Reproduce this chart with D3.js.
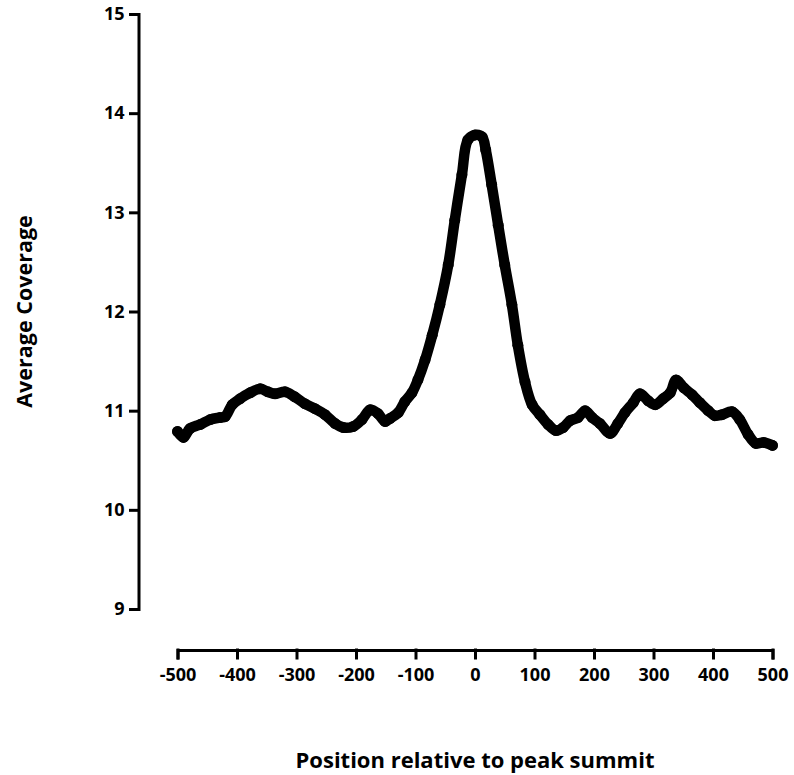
<!DOCTYPE html>
<html>
<head>
<meta charset="utf-8">
<script src="https://cdn.jsdelivr.net/npm/d3@7"></script>
<style>
  body { margin: 0; background: #fff; }
  svg { display: block; font-family: "Open Sans", sans-serif; font-weight: bold; }
</style>
</head>
<body>
<div id="chart"></div>
<script>
// Datos
const posiciones = [-500, -490, -479, -462, -445, -429, -420, -408, -395, -378, -361, -348, -336, -319,
  -303, -286, -269, -252, -235, -221, -205, -190, -176, -163, -151, -143, -129, -118, -106, -96,
  -84, -72, -59, -45, -34, -22, -12, 0, 12, 18, 28, 39, 50, 62, 72, 84, 96, 109, 123, 136, 148,
  160, 173, 185, 197, 210, 227, 240, 252, 266, 277, 291, 303, 316, 328, 338, 351, 365, 378, 392,
  403, 415, 432, 445, 459, 472, 485, 500];
const cobertura = [10.79, 10.73, 10.82, 10.86, 10.91, 10.93, 10.94, 11.06, 11.12, 11.18, 11.22, 11.19, 11.17, 11.19,
  11.14, 11.07, 11.02, 10.96, 10.87, 10.83, 10.84, 10.91, 11.01, 10.97, 10.89, 10.92, 10.98, 11.09, 11.18, 11.31,
  11.51, 11.76, 12.07, 12.47, 12.92, 13.38, 13.73, 13.78, 13.76, 13.63, 13.28, 12.87, 12.47, 12.07, 11.66, 11.29, 11.06, 10.96, 10.86, 10.80, 10.83,
  10.90, 10.93, 11.00, 10.93, 10.87, 10.77, 10.87, 10.98, 11.08, 11.17, 11.10, 11.06, 11.12, 11.18, 11.31, 11.23, 11.16, 11.08, 11.00,
  10.95, 10.96, 10.99, 10.91, 10.76, 10.67, 10.68, 10.65];
const ticksX = [-500, -400, -300, -200, -100, 0, 100, 200, 300, 400, 500];
const ticksY = [9, 10, 11, 12, 13, 14, 15];

const WIDTH = 794;
const HEIGHT = 775;

const MARGIN = {
    top: 14,
    bottom: 125,
    right: 21.5,
    left: 177.5,
}
const EJE_Y_X = 138.5;
const EJE_X_Y = 650;

const svg = d3.select("#chart")
    .append("svg")
    .attr("width", WIDTH)
    .attr("height", HEIGHT);

const escalaX = d3.scaleLinear()
    .domain([-500, 500])
    .range([MARGIN.left, WIDTH - MARGIN.right]);

const escalaY = d3.scaleLinear()
    .domain([9, 15])
    .range([609, MARGIN.top]);

const ejeX = d3.axisBottom(escalaX)
    .tickValues(ticksX)
    .tickFormat(d => String(d))
    .tickSizeOuter(0)
    .tickSize(8)
    .tickPadding(10);

const ejeY = d3.axisLeft(escalaY)
    .tickValues(ticksY)
    .tickFormat(d => String(d))
    .tickSizeOuter(0)
    .tickSize(8)
    .tickPadding(6);

const gX = svg.append("g")
    .attr("transform", `translate(0, ${EJE_X_Y})`)
    .call(ejeX);

const gY = svg.append("g")
    .attr("transform", `translate(${EJE_Y_X}, 0)`)
    .call(ejeY);

[gX, gY].forEach(g => {
    g.selectAll("path, line")
        .attr("stroke", "#000")
        .attr("stroke-width", 3)
        .attr("stroke-linecap", "square");
    g.selectAll("text")
        .attr("fill", "#000")
        .attr("font-size", 18)
        .attr("font-family", "Open Sans, sans-serif")
        .attr("font-weight", "bold");
});

// Curva de cobertura
const puntos = posiciones.map((p, i) => [p, cobertura[i]]);

const linea = d3.line()
    .x(d => escalaX(d[0]))
    .y(d => escalaY(d[1]))
    .curve(d3.curveCatmullRom);

svg.append("path")
    .datum(puntos)
    .attr("d", linea)
    .attr("fill", "none")
    .attr("stroke", "#000")
    .attr("stroke-width", 10.5)
    .attr("stroke-linejoin", "round")
    .attr("stroke-linecap", "round");

svg.selectAll(".punto")
    .data(puntos)
    .join("circle")
    .attr("class", "punto")
    .attr("cx", d => escalaX(d[0]))
    .attr("cy", d => escalaY(d[1]))
    .attr("r", 5.5)
    .attr("fill", "#000");

// Titulos de ejes
svg.append("text")
    .text("Position relative to peak summit")
    .attr("x", (escalaX(-500) + escalaX(500)) / 2)
    .attr("y", 768)
    .attr("text-anchor", "middle")
    .attr("font-size", 22);

svg.append("text")
    .text("Average Coverage")
    .attr("transform", `translate(32, ${(escalaY(9) + escalaY(15)) / 2}) rotate(-90)`)
    .attr("text-anchor", "middle")
    .attr("font-size", 21.5);
</script>
</body>
</html>
